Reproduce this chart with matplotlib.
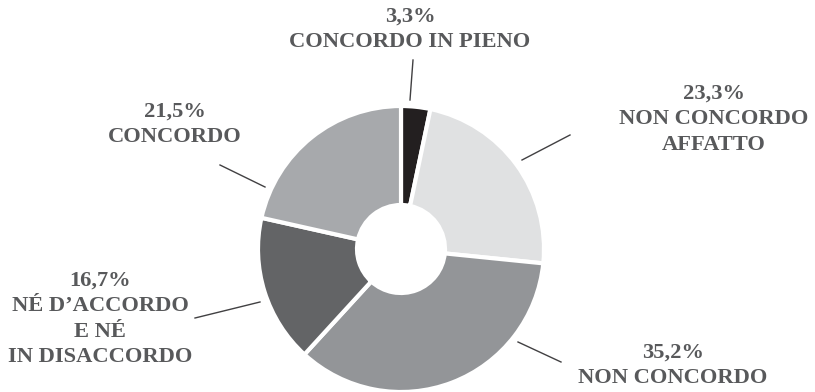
import matplotlib.pyplot as plt

# dati del grafico (in senso orario dalle ore 12)
categorie = ["CONCORDO IN PIENO", "NON CONCORDO\nAFFATTO", "NON CONCORDO",
             "NÉ D’ACCORDO\nE NÉ\nIN DISACCORDO", "CONCORDO"]
valori = [3.3, 23.3, 35.2, 16.7, 21.5]
colori = ["#231f20", "#e0e1e2", "#939598", "#636466", "#a7a9ac"]

# posizioni etichette (pixel, origine in basso a sinistra) e linee guida
pos_testo = [(410, 385), (714, 308), (175, 290), (100, 121), (673, 49)]
linee = [((413, 332), (410, 292)),
         ((522, 232), (570, 257)),
         ((518, 50), (561, 30)),
         ((260, 90), (195, 74)),
         ((265, 205), (220, 227))]
# ordine di pos_testo: pieno, affatto, concordo, ne/ne, non concordo
ordine = [0, 1, 4, 3, 2]

fig = plt.figure(figsize=(8.15, 3.92), dpi=100)
ax = fig.add_axes([0, 0, 1, 1])

cx, cy, r = 401, 143, 143
ax.pie(valori, colors=colori, startangle=90, counterclock=False,
       center=(cx, cy), radius=r, frame=True,
       wedgeprops=dict(width=r - 44, edgecolor="white", linewidth=3))
ax.set_xlim(0, 815)
ax.set_ylim(0, 392)
ax.set_aspect("equal")
ax.axis("off")

testo_col = "#58595b"
for k, (x, y) in enumerate(pos_testo):
    i = ordine[k]
    perc = f"{valori[i]:.1f}".replace(".", ",") + "%"
    ax.text(x, y, perc + "\n" + categorie[i], ha="center", va="top",
            family="Liberation Serif", fontweight="bold", fontsize=16.2,
            color=testo_col, linespacing=1.36)

for (p1, p2) in linee:
    ax.plot([p1[0], p2[0]], [p1[1], p2[1]], color="#414042", lw=1)

fig.savefig("out.png", dpi=100)
